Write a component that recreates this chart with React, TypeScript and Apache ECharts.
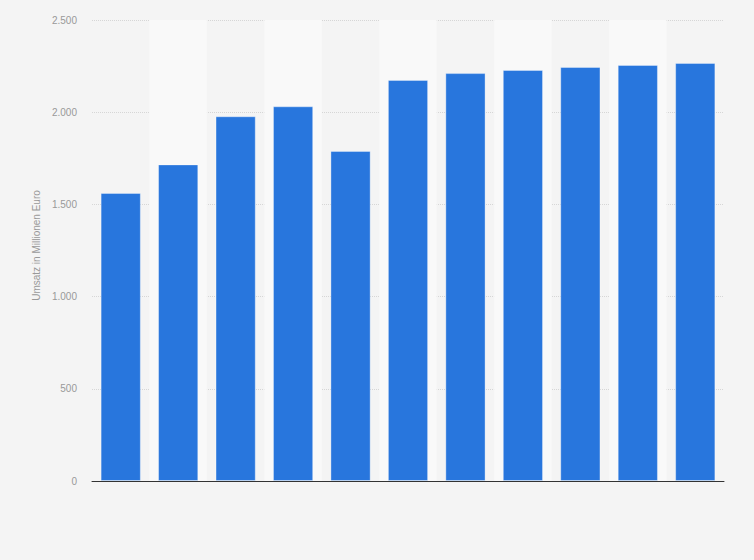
import { useEffect, useRef } from "react";
import * as echarts from "echarts";

const years = [
  "2016", "2017", "2018", "2019", "2020", "2021",
  "2022", "2023", "2024", "2025", "2026",
];
const revenue = [1562, 1717, 1978, 2032, 1790, 2175, 2212, 2229, 2245, 2256, 2267];
const yTicks = [0, 500, 1000, 1500, 2000, 2500];

function formatGerman(value: number): string {
  return String(value).replace(/\B(?=(\d{3})+(?!\d))/g, ".");
}

export default function App() {
  const reference = useRef<HTMLDivElement>(null);

  useEffect(() => {
    const element = reference.current;
    if (element === null) return;
    const chart = echarts.init(element, undefined, { renderer: "svg" });
    chart.setOption({
      animation: false,
      backgroundColor: "#f4f4f4",
      grid: { left: 92, right: 30, top: 20, bottom: 79 },
      xAxis: {
        type: "category",
        data: years,
        axisTick: { show: false },
        axisLabel: { show: false },
        axisLine: { lineStyle: { color: "#333", width: 1 } },
        splitArea: {
          show: true,
          areaStyle: { color: ["rgba(0,0,0,0)", "#f9f9f9"] },
        },
      },
      yAxis: {
        type: "value",
        min: yTicks[0],
        max: yTicks[yTicks.length - 1],
        interval: 500,
        name: "Umsatz in Millionen Euro",
        nameLocation: "middle",
        nameGap: 47,
        nameTextStyle: {
          color: "#999",
          fontSize: 10,
          fontFamily: "Liberation Sans",
          padding: [0, 0, 0, 10],
        },
        axisLine: { show: false },
        axisTick: { show: false },
        axisLabel: {
          color: "#999",
          fontSize: 10,
          margin: 15,
          fontFamily: "Liberation Sans",
          formatter: (value: number) => formatGerman(value),
        },
        splitLine: { lineStyle: { color: "#d6d6d6", type: "dotted", width: 1 } },
      },
      series: [
        {
          type: "bar",
          data: revenue,
          barCategoryGap: "30%",
          itemStyle: {
            color: "#2876dd",
            borderColor: "rgba(255,255,255,0.35)",
            borderWidth: 1,
          },
        },
      ],
    });
    return () => chart.dispose();
  }, []);

  return (
    <div
      ref={reference}
      style={{ position: "fixed", left: 0, top: 0, width: 754, height: 560 }}
    />
  );
}
